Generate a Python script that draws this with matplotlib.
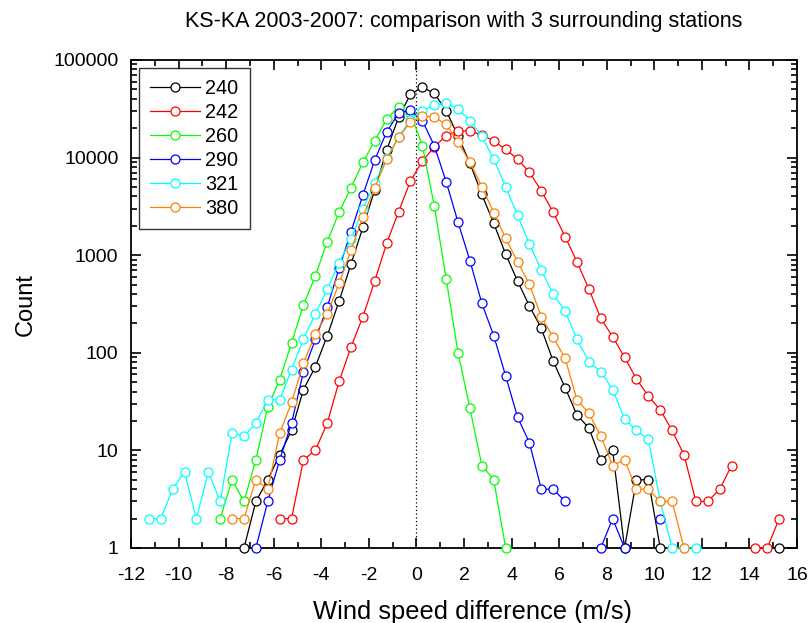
import numpy as np
import matplotlib
matplotlib.use("Agg")
from matplotlib import pyplot as plt
from matplotlib.ticker import MultipleLocator, LogLocator, NullFormatter

plt.rcParams['font.family'] = ['Liberation Sans', 'DejaVu Sans']
plt.rcParams['axes.unicode_minus'] = False

# bin centres of the wind speed difference (m/s), 0.5 m/s bins
x_step = 0.5
nan = np.nan

# counts per station, each list starts at its own first bin
start_240 = -7.25
count_240 = [1, 3, 5, 9, 16, 42, 72, 149, 340, 813, 1930, 4700, 11970, 25900, 44500,
             52500, 45600, 30270, 16600, 8750, 4200, 2120, 1028, 544, 302, 178, 82, 44,
             23, 17, 8, 10, 1, 5, 5, 1, nan, nan, nan, nan, nan, nan, nan, nan, nan, 1]

start_242 = -5.75
count_242 = [2, 2, 8, 10, 19, 51, 115, 234, 548, 1324, 2790, 5760, 9230, 12850, 16770,
             18740, 18740, 17050, 14800, 12160, 9680, 7070, 4580, 2750, 1548, 858, 450,
             226, 146, 90, 54, 36, 26, 16, 9, 3, 3, 4, 7, nan, 1, 1, 2]

start_260 = -8.25
count_260 = [2, 5, 3, 8, 28, 53, 126, 309, 612, 1375, 2750, 4920, 8950, 14900, 24850,
             33200, 28400, 13250, 3215, 570, 100, 27, 7, 5, 1]

start_290 = -6.75
count_290 = [1, 3, 8, 19, 64, 137, 293, 734, 1740, 4140, 9450, 18400, 28400, 30700,
             23900, 13250, 5660, 2174, 879, 321, 150, 58, 22, 12, 4, 4, 3, nan, nan, 1,
             2, 1, nan, nan, 2]

start_321 = -11.25
count_321 = [2, 2, 4, 6, 2, 6, 3, 15, 14, 19, 33, 33, 67, 139, 250, 447, 838, 1455,
             2970, 5530, 9900, 16300, 24300, 30300, 34600, 36000, 31500, 23900, 16600,
             9600, 5030, 2580, 1300, 705, 400, 268, 138, 81, 64, 42, 21, 16, 13, 3, 1, 1, 1]

start_380 = -7.75
count_380 = [2, 2, 5, 4, 15, 31, 78, 156, 250, 515, 1130, 2480, 4920, 9600, 16150,
             23000, 26700, 26050, 21900, 14350, 8950, 5030, 2725, 1490, 858, 503, 234,
             144, 88, 33, 24, 14, 7, 8, 4, 4, 3, 3, 1]

stations = ["240", "242", "260", "290", "321", "380"]
starts = [start_240, start_242, start_260, start_290, start_321, start_380]
counts = [count_240, count_242, count_260, count_290, count_321, count_380]
colors = ["#000000", "#FF0000", "#00FF00", "#0000FF", "#00FFFF", "#FF8000"]

fig = plt.figure(figsize=(8.08, 6.23), dpi=100)
ax = fig.add_axes([131/808, 1-548/623, 666/808, 488/623])

for name, x0, c, col in zip(stations, starts, counts, colors):
    c = np.array(c, dtype=float)
    x = x0 + x_step*np.arange(len(c))
    ax.plot(x, c, color=col, lw=0.9, marker="o", ms=6.5, mfc="white",
            mec=col, mew=0.9, label=name, clip_on=False, zorder=3)

ax.axvline(0, color="black", ls=(0, (1, 2)), lw=0.9, zorder=1)

ax.set_yscale("log")
ax.set_xlim(-12, 16)
ax.set_ylim(1, 100000)
ax.xaxis.set_major_locator(MultipleLocator(2))
ax.xaxis.set_minor_locator(MultipleLocator(1))
ax.yaxis.set_major_locator(LogLocator(base=10, numticks=10))
ax.yaxis.set_minor_locator(LogLocator(base=10, subs=np.arange(2, 10), numticks=10))
ax.yaxis.set_minor_formatter(NullFormatter())
ax.yaxis.set_major_formatter(plt.FuncFormatter(lambda v, p: f"{v:.0f}"))

ax.tick_params(which="both", direction="in", top=True, right=True, labelsize=14, width=1.2)
ax.tick_params(axis="x", which="major", pad=14)
ax.tick_params(axis="y", which="major", pad=9)
ax.tick_params(which="major", length=7)
ax.tick_params(which="minor", length=4)
for s in ax.spines.values():
    s.set_linewidth(1.3)

ax.set_xlabel("Wind speed difference (m/s)", fontsize=18.4, labelpad=11)
ax.xaxis.label.set_x(0.513)
ax.set_ylabel("Count", fontsize=17, labelpad=12)
ax.set_title("KS-KA 2003-2007: comparison with 3 surrounding stations", fontsize=15.5, pad=24)

leg = ax.legend(loc="upper left", fontsize=14.3, frameon=True, fancybox=False,
                edgecolor="black", handlelength=2.5, borderaxespad=0.4,
                labelspacing=0.25, handletextpad=0.3, borderpad=0.55)
leg.get_frame().set_linewidth(1.0)

fig.savefig("out.png", dpi=100)
